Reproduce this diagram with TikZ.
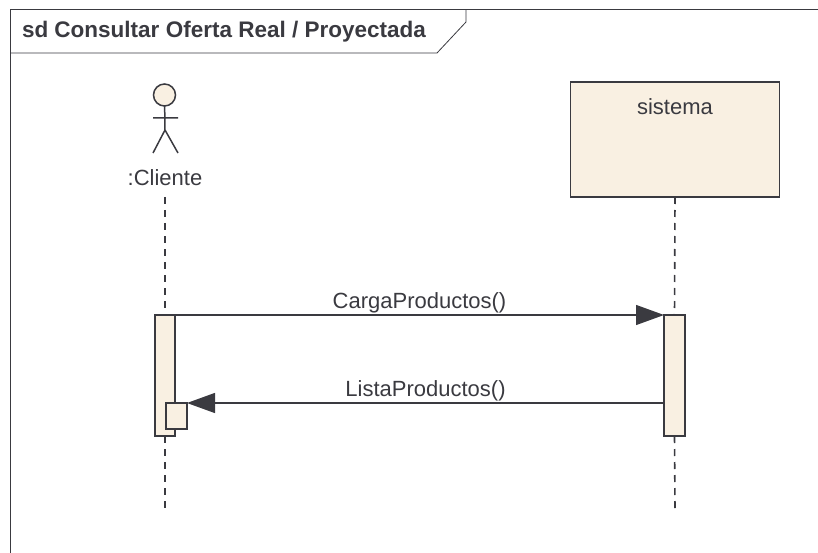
\documentclass[tikz,border=0pt]{standalone}
\usepackage{fontspec}
\setmainfont{Liberation Sans}
\usetikzlibrary{arrows.meta}

\definecolor{umlfill}{HTML}{F9F0E2}
\definecolor{umlline}{HTML}{3A3A40}

\begin{document}
\begin{tikzpicture}[x=1pt,y=-1pt,>={Triangle[length=28pt,width=20pt]},
                    line width=1.5pt, draw=umlline, color=umlline, font=\fontsize{22}{24}\selectfont]

  \tikzset{every node/.style={inner sep=0pt, outer sep=0pt, text=umlline},
           activation/.style={draw, line width=1.8pt, fill=umlfill, rectangle, minimum width=#1, anchor=north west},
           lifeline/.style={dashed, line width=1.6pt, dash pattern=on 7pt off 6pt},
           message/.style={->, line width=1.3pt}}
  \useasboundingbox (0,0) rectangle (818,553);

  % frame and its tab
  \coordinate (frameTL)  at (10.5,9.5);
  \coordinate (frameTR)  at (818,9.5);
  \coordinate (frameBL)  at (10.5,553);
  \coordinate (tabL)     at (10.5,53);
  \coordinate (tabB)     at (437,53);
  \coordinate (tabR)     at (466,22);
  \coordinate (tabT)     at (466,9.5);
  \draw[line width=0.8pt] (frameBL) -- (frameTL) -- (frameTR);
  \draw[line width=0.8pt] (tabL) -- (tabB) -- (tabR) -- (tabT);
  \node[anchor=base west, font=\fontsize{22.5}{24}\selectfont\bfseries] (title) at (22,38) {sd Consultar Oferta Real / Proyectada};

  % actor
  \node[circle, draw, fill=umlfill, minimum size=22pt] (head) at (164.5,95) {};
  \coordinate (hip)    at (165,130);
  \coordinate (armL)   at (153,118);
  \coordinate (armR)   at (178,118);
  \coordinate (legL)   at (153,153);
  \coordinate (legR)   at (178,153);
  \draw (head) -- (hip) -- (legL) (hip) -- (legR) (armL) -- (armR);
  \node[anchor=base] (cliente) at (165,186) {:Cliente};

  % sistema
  \node[draw, fill=umlfill, minimum width=209pt, minimum height=115pt, anchor=north west] (sistema) at (570.5,82) {};
  \node[anchor=base] (sistemaText) at (675,115) {sistema};

  % activations
  \node[activation=20pt, minimum height=121pt] (actC) at (155,315) {};
  \node[activation=21pt, minimum height=121pt] (actS) at (664,315) {};
  \node[activation=21pt, minimum height=26pt]  (actR) at (166,403) {};

  % lifelines
  \coordinate (clienteTop) at (165,197);
  \coordinate (clienteEnd) at (165,511);
  \coordinate (sistemaEnd) at (675,511);
  \draw[lifeline] (clienteTop) -- (actC.north);
  \draw[lifeline] (actC.south) -- (clienteEnd);
  \draw[lifeline] (sistema.south) -- (actS.north);
  \draw[lifeline] (actS.south) -- (sistemaEnd);

  % messages
  \path (actC.north east) edge[message] node[above=2pt] {CargaProductos()} (actS.north west)
        (actS.west |- actR.north) edge[message] node[above=2pt] {ListaProductos()} (actR.north east);
\end{tikzpicture}
\end{document}
